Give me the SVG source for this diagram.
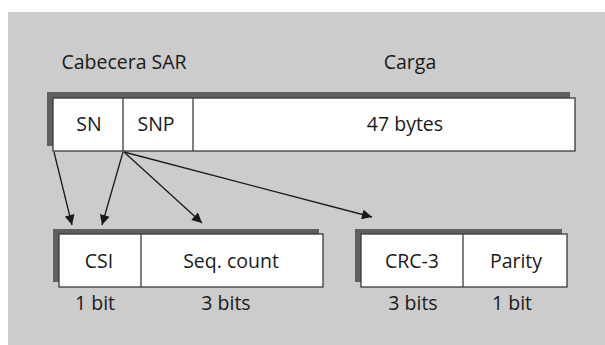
<svg xmlns="http://www.w3.org/2000/svg" width="605" height="345" viewBox="0 0 605 345">
<defs>
<style>
.t{font-family:"Open Sans","Liberation Sans",sans-serif;font-size:19.5px;fill:#1a1a1a;text-anchor:middle}
.sh{fill:#5f5f5f}
.bx{fill:#fff;stroke:#3a3a3a;stroke-width:1.3}
.dv{stroke:#3a3a3a;stroke-width:1.3}
.ln{stroke:#1a1a1a;stroke-width:1.3;fill:none}
</style>
<marker id="ah" viewBox="0 0 10 10" refX="10" refY="5" markerWidth="11" markerHeight="10" markerUnits="userSpaceOnUse" orient="auto">
<path d="M0,0 L10,5 L0,10 z" fill="#1a1a1a"/>
</marker>
</defs>
<rect x="8" y="12" width="597" height="333" fill="#cccccc"/>
<g id="labels">
<text class="t" x="124" y="69">Cabecera SAR</text>
<text class="t" x="410" y="69">Carga</text>
</g>
<g id="sar-pdu">
<rect class="sh" x="47" y="92" width="523" height="54"/>
<rect class="bx" x="53" y="98" width="522" height="53"/>
<line class="dv" x1="123" y1="98" x2="123" y2="151"/>
<line class="dv" x1="193" y1="98" x2="193" y2="151"/>
<text class="t" x="89" y="131">SN</text>
<text class="t" x="156" y="131">SNP</text>
<text class="t" x="405" y="131">47 bytes</text>
</g>
<g id="sn">
<rect class="sh" x="53" y="229" width="266" height="53"/>
<rect class="bx" x="59" y="234" width="264" height="53"/>
<line class="dv" x1="141" y1="234" x2="141" y2="287"/>
<text class="t" x="99" y="268">CSI</text>
<text class="t" x="231" y="268">Seq. count</text>
<text class="t" x="95" y="310">1 bit</text>
<text class="t" x="226" y="310">3 bits</text>
</g>
<g id="snp">
<rect class="sh" x="355" y="229" width="207" height="53"/>
<rect class="bx" x="361" y="234" width="206" height="53"/>
<line class="dv" x1="463" y1="234" x2="463" y2="287"/>
<text class="t" x="412" y="268">CRC-3</text>
<text class="t" x="516" y="268">Parity</text>
<text class="t" x="413" y="310">3 bits</text>
<text class="t" x="512" y="310">1 bit</text>
</g>
<g id="connectors">
<line class="ln" x1="54" y1="152" x2="72" y2="225" marker-end="url(#ah)"/>
<line class="ln" x1="123" y1="152" x2="102" y2="225" marker-end="url(#ah)"/>
<line class="ln" x1="124" y1="152" x2="202" y2="223" marker-end="url(#ah)"/>
<line class="ln" x1="124" y1="152" x2="372" y2="217" marker-end="url(#ah)"/>
</g>
</svg>
